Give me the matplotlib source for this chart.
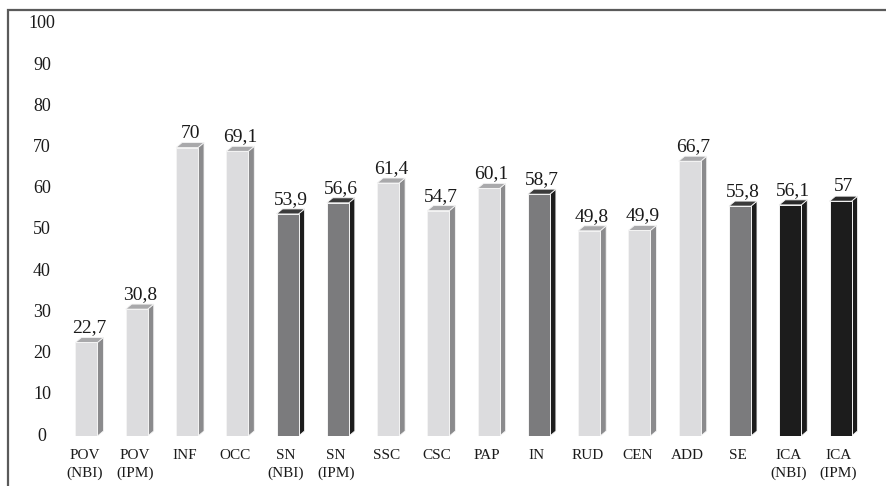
import numpy as np
import matplotlib
matplotlib.use("Agg")
import matplotlib.pyplot as plt
from matplotlib.patches import Polygon, Rectangle

plt.rcParams['font.family'] = ['Liberation Serif', 'DejaVu Serif']

categories = ["POV\n(NBI)", "POV\n(IPM)", "INF", "OCC", "SN\n(NBI)", "SN\n(IPM)",
              "SSC", "CSC", "PAP", "IN", "RUD", "CEN", "ADD", "SE",
              "ICA\n(NBI)", "ICA\n(IPM)"]
values = [22.7, 30.8, 70, 69.1, 53.9, 56.6, 61.4, 54.7, 60.1, 58.7,
          49.8, 49.9, 66.7, 55.8, 56.1, 57]
groups = ["light", "light", "light", "light", "dark", "dark", "light", "light",
          "light", "dark", "light", "light", "light", "dark", "black", "black"]
yticks = [0, 10, 20, 30, 40, 50, 60, 70, 80, 90, 100]

# front / side / top shades
shades = {
    "light": ("#dcdcde", "#8b8b8d", "#a9a9ab"),
    "dark": ("#7b7b7d", "#1d1d1d", "#3b3b3b"),
    "black": ("#1c1c1c", "#1c1c1c", "#2a2a2a"),
}

W, H = 887, 486
fig = plt.figure(figsize=(W / 100, H / 100), dpi=100)
fig.patch.set_facecolor("white")

# frame: only top and left edges visible in the crop
fig.add_artist(Rectangle((8 / W, -0.1), 1.2, (H - 10) / H + 0.1,
                         transform=fig.transFigure, fill=False,
                         edgecolor="#5a5a5a", linewidth=1.6))

ax = fig.add_axes([36.2 / W, 50 / H, 854.6 / W, 412 / H])
ax.set_xlim(-1, 16)
ax.set_ylim(0, 100)
ax.axis("off")

px_x = 50.27          # pixels per x unit
px_y = 4.12           # pixels per y unit
bw = 22 / px_x        # front width
dx = 6 / px_x         # depth to the right
dy = 5 / px_y         # depth upward

x = np.arange(len(values))
for i, (v, g) in enumerate(zip(values, groups)):
    front, side, top = shades[g]
    l, r = i - bw / 2, i + bw / 2
    ax.bar(i, v, width=bw, color=front, edgecolor="#f4f4f4", linewidth=0.7, zorder=3)
    ax.add_patch(Polygon([(r, 0), (r + dx, dy), (r + dx, v + dy), (r, v)],
                         closed=True, facecolor=side, edgecolor="#f4f4f4",
                         linewidth=0.6, zorder=2))
    ax.add_patch(Polygon([(l, v), (l + dx, v + dy), (r + dx, v + dy), (r, v)],
                         closed=True, facecolor=top, edgecolor="#f4f4f4",
                         linewidth=0.6, zorder=2))
    lab = str(int(v)) if float(v).is_integer() else str(v).replace(".", ",")
    ax.text(i + dx / 2, v + dy + 1.2, lab, ha="center", va="baseline",
            fontsize=14, color="#1a1a1a")
    ax.text(i - 0.04, -3.2, categories[i], ha="center", va="top",
            fontsize=11, linespacing=1.45, color="#1a1a1a")

for t in yticks:
    ax.text(-0.885, t, str(t), ha="center", va="center", fontsize=13,
            color="#1a1a1a")

fig.savefig("out.png", dpi=100)
